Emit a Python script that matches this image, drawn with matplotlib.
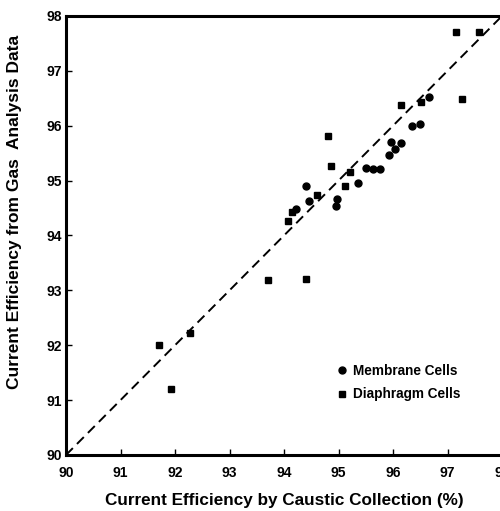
import matplotlib
matplotlib.use('Agg')
import matplotlib.pyplot as plt

plt.rcParams['font.family'] = ['Liberation Sans', 'DejaVu Sans']
plt.rcParams['font.weight'] = 'bold'

# membrane cells (circles)
mem_x = [96.66, 96.50, 96.35, 95.96, 96.14, 96.04, 95.93, 95.50, 95.63, 95.76,
         95.35, 94.40, 94.45, 94.97, 94.95, 94.22]
mem_y = [96.53, 96.03, 95.99, 95.71, 95.69, 95.57, 95.47, 95.23, 95.22, 95.21,
         94.95, 94.91, 94.62, 94.67, 94.53, 94.48]

# diaphragm cells (squares)
dia_x = [97.15, 97.58, 97.27, 96.51, 96.15, 94.81, 94.87, 95.21, 95.12, 94.60,
         94.14, 94.08, 93.71, 94.40, 92.28, 91.71, 91.92]
dia_y = [97.71, 97.70, 96.48, 96.44, 96.37, 95.81, 95.27, 95.15, 94.90, 94.73,
         94.42, 94.26, 93.18, 93.21, 92.23, 92.01, 91.20]

ticks = [90, 91, 92, 93, 94, 95, 96, 97, 98]

fig = plt.figure(figsize=(5.0, 5.11), dpi=100)
ax = fig.add_axes([0.132, 0.1096, 0.872, 0.8591])

ax.plot([90, 98], [90, 98], color='black', linestyle=(0, (5, 3)), linewidth=1.4, zorder=1)
ax.plot(mem_x, mem_y, 'o', color='black', markersize=5.0, linestyle='none',
        label='Membrane Cells', zorder=3)
ax.plot(dia_x, dia_y, 's', color='black', markersize=4.8, linestyle='none',
        label='Diaphragm Cells', zorder=3)

ax.set_xlim(90, 98)
ax.set_ylim(90, 98)
ax.set_xticks(ticks)
ax.set_yticks(ticks)
ax.tick_params(direction='in', length=4, width=1, labelsize=10)
ax.tick_params(axis='x', pad=8)
ax.tick_params(axis='y', pad=3)
for s in ax.spines.values():
    s.set_linewidth(2.2)

ax.set_xlabel('Current Efficiency by Caustic Collection (%)', fontsize=12.3,
              fontweight='bold', labelpad=9)
ax.set_ylabel('Current Efficiency from Gas  Analysis Data', fontsize=12.5,
              fontweight='bold')
ax.yaxis.set_label_coords(-0.10, 0.553)

leg = ax.legend(loc='upper left', bbox_to_anchor=(0.609, 0.22), frameon=False,
                prop={'size': 9.8, 'weight': 'bold'}, handletextpad=0.35,
                labelspacing=0.7, handlelength=0.8, borderaxespad=0)

fig.savefig('out.png', dpi=100)
